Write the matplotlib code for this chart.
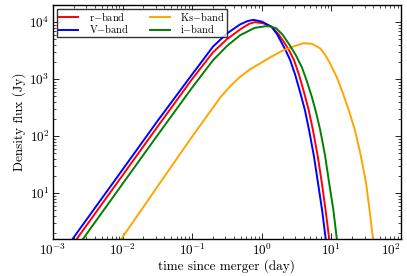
import numpy as np
import matplotlib
matplotlib.use("Agg")
import matplotlib.pyplot as plt

# values, log10(time/day) and log10(flux/Jy)
v_logt = [-2.72, -2.1, -1.5, -1.05, -0.7, -0.5, -0.31, -0.2, -0.12, 0.0, 0.14, 0.22, 0.29, 0.35, 0.41,
          0.48, 0.55, 0.62, 0.68, 0.75, 0.81, 0.87, 0.92]
v_logf = [0.19, 1.24, 2.26, 3.0, 3.57, 3.8, 3.96, 4.02, 4.04, 4.01, 3.92, 3.79, 3.63, 3.49, 3.33,
          3.08, 2.78, 2.46, 2.11, 1.65, 1.17, 0.68, 0.19]

r_logt = [-2.66, -2.1, -1.5, -1.0, -0.7, -0.5, -0.3, -0.18, -0.1, 0.02, 0.14, 0.24, 0.33, 0.4, 0.465,
          0.535, 0.605, 0.675, 0.735, 0.805, 0.865, 0.92, 0.97]
r_logf = [0.19, 1.14, 2.16, 3.0, 3.47, 3.70, 3.88, 3.97, 4.0, 3.98, 3.92, 3.79, 3.63, 3.49, 3.33,
          3.08, 2.78, 2.46, 2.11, 1.65, 1.17, 0.68, 0.19]

i_logt = [-2.57, -2.1, -1.5, -1.0, -0.7, -0.5, -0.31, -0.1, 0.07, 0.14, 0.21, 0.3, 0.4, 0.49, 0.58,
          0.65, 0.72, 0.78, 0.84, 0.91, 0.97, 1.03, 1.08]
i_logf = [0.19, 0.99, 2.01, 2.85, 3.33, 3.58, 3.77, 3.9, 3.93, 3.92, 3.89, 3.78, 3.6, 3.42, 3.2,
          2.96, 2.69, 2.42, 2.11, 1.66, 1.17, 0.7, 0.19]

ks_logt = [-2.02, -1.5, -1.0, -0.6, -0.45, -0.31, -0.17, -0.03, 0.12, 0.3, 0.45, 0.6, 0.72, 0.84,
           0.91, 0.98, 1.08, 1.17, 1.26, 1.34, 1.42, 1.5, 1.55, 1.6]
ks_logf = [0.19, 1.11, 1.99, 2.67, 2.88, 3.04, 3.17, 3.27, 3.38, 3.5, 3.57, 3.63, 3.62, 3.54,
           3.43, 3.28, 3.03, 2.74, 2.42, 2.1, 1.68, 1.17, 0.7, 0.19]

bands = ["r$-$band", "V$-$band", "Ks$-$band", "i$-$band"]

plt.rcParams["font.family"] = "cmr10"
plt.rcParams["mathtext.fontset"] = "cm"
plt.rcParams["axes.formatter.use_mathtext"] = True
plt.rcParams["xtick.direction"] = "in"
plt.rcParams["ytick.direction"] = "in"
plt.rcParams["xtick.top"] = True
plt.rcParams["ytick.right"] = True

fig = plt.figure(figsize=(4.07, 2.76), dpi=100)
ax = fig.add_axes([0.130, 0.134, 0.855, 0.848])

curves = [(r_logt, r_logf, "red"), (v_logt, v_logf, "blue"),
          (ks_logt, ks_logf, "orange"), (i_logt, i_logf, "green")]
for (lt, lf, c), name in zip(curves, bands):
    ax.plot(10 ** np.array(lt), 10 ** np.array(lf), color=c, lw=1.4, label=name)

ax.set_xscale("log")
ax.set_yscale("log")
ax.set_xlim(1e-3, 1e2)
ax.set_ylim(1.56, 2e4)
ax.tick_params(which="major", length=4, width=0.6, labelsize=9.5, pad=2.5)
ax.tick_params(which="minor", length=2, width=0.5)
for s in ax.spines.values():
    s.set_linewidth(1.0)

ax.set_xlabel("time since merger (day)", fontsize=9.5, labelpad=1)
ax.set_ylabel("Density flux (Jy)", fontsize=9.5, labelpad=2)

leg = ax.legend(loc="upper left", ncol=2, fontsize=7.5, fancybox=False,
                frameon=True, borderaxespad=0.35, handlelength=1.9, handletextpad=1.0,
                columnspacing=2.0, labelspacing=0.05, borderpad=0.2)
leg.get_frame().set_edgecolor("black")
leg.get_frame().set_linewidth(1.0)

# last x label sits against the figure edge, keep it inside
fig.canvas.draw()
xlabels = ax.get_xticklabels()
for t in xlabels:
    if "10^{2}" in t.get_text():
        t.set_horizontalalignment("right")
        t.set_x(t.get_position()[0])

fig.savefig("out.png", dpi=100)
